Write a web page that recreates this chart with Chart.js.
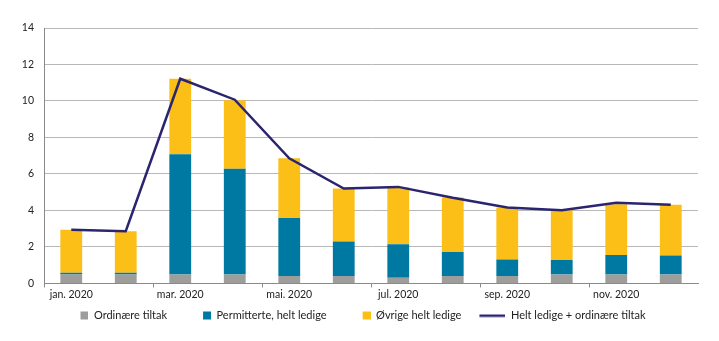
<!DOCTYPE html>
<html>
<head>
<meta charset="utf-8">
<script src="https://cdn.jsdelivr.net/npm/chart.js@4"></script>
<style>
  html, body { margin: 0; padding: 0; background: #fff; }
  #wrap { width: 719px; height: 341px; }
</style>
</head>
<body>
<div id="wrap"><canvas id="chart"></canvas></div>
<script>
const months = ["jan. 2020", "feb. 2020", "mar. 2020", "apr. 2020", "mai. 2020", "jun. 2020",
                "jul. 2020", "aug. 2020", "sep. 2020", "okt. 2020", "nov. 2020", "des. 2020"];
const ordinaere = [0.49, 0.49, 0.49, 0.49, 0.40, 0.40, 0.31, 0.40, 0.40, 0.49, 0.49, 0.49];
const permitterte = [0.09, 0.09, 6.59, 5.79, 3.19, 1.90, 1.84, 1.32, 0.91, 0.79, 1.06, 1.04];
const ovrige = [2.36, 2.28, 4.14, 3.76, 3.27, 2.90, 3.11, 2.99, 2.85, 2.73, 2.79, 2.78];
const heltLedigeTiltak = [2.94, 2.86, 11.22, 10.07, 6.86, 5.20, 5.29, 4.69, 4.16, 4.01, 4.42, 4.31];
const yTicks = [0, 2, 4, 6, 8, 10, 12, 14];

const FONT = "Lato, 'Open Sans', sans-serif";
const ICON_W = 36;

// legend symbols: symbol sits at the right end of the icon, next to the text
function legendIcon(color, isLine) {
  const c = document.createElement("canvas");
  c.width = ICON_W; c.height = 10;
  const g = c.getContext("2d");
  g.fillStyle = color;
  if (isLine) g.fillRect(ICON_W - 26, 4, 26, 2.5);
  else g.fillRect(ICON_W - 8, 1, 8, 8);
  return c;
}

new Chart(document.getElementById("chart"), {
  data: {
    labels: months,
    datasets: [
      { type: "bar", label: "Ordinære tiltak", data: ordinaere, backgroundColor: "#9d9d9c",
        stack: "bars", order: 1, pointStyle: legendIcon("#9d9d9c") },
      { type: "bar", label: "Permitterte, helt ledige", data: permitterte, backgroundColor: "#0079a2",
        stack: "bars", order: 1, pointStyle: legendIcon("#0079a2") },
      { type: "bar", label: "Øvrige helt ledige", data: ovrige, backgroundColor: "#fbbf18",
        stack: "bars", order: 1, pointStyle: legendIcon("#fbbf18") },
      { type: "line", label: "Helt ledige + ordinære tiltak", data: heltLedigeTiltak,
        borderColor: "#2b2570", borderWidth: 2.5, pointRadius: 0, tension: 0,
        stack: "line", order: 0, pointStyle: legendIcon("#2b2570", true) }
    ]
  },
  options: {
    responsive: true,
    maintainAspectRatio: false,
    animation: false,
    datasets: { bar: { categoryPercentage: 0.4, barPercentage: 1 } },
    layout: { padding: { top: 28, right: 21, left: 0, bottom: 10 } },
    plugins: {
      tooltip: { enabled: false },
      legend: {
        position: "bottom",
        labels: {
          usePointStyle: true,
          pointStyleWidth: ICON_W,
          boxHeight: 10,
          padding: 8,
          color: "#222",
          font: { family: FONT, size: 11 },
          sort: (a, b) => a.datasetIndex - b.datasetIndex
        }
      }
    },
    scales: {
      x: {
        stacked: true,
        offset: true,
        border: { color: "#8a8a8a", width: 1 },
        grid: {
          offset: true,
          drawOnChartArea: false,
          tickLength: 4,
          color: ctx => ctx.index % 2 === 0 ? "#8a8a8a" : "rgba(0,0,0,0)"
        },
        ticks: {
          autoSkip: false,
          maxRotation: 0,
          padding: 1,
          color: "#222",
          font: { family: FONT, size: 10.5 },
          callback: (v, i) => i % 2 === 0 ? months[i] : ""
        }
      },
      y: {
        stacked: true,
        min: 0,
        max: 14,
        afterBuildTicks: s => { s.ticks = yTicks.map(v => ({ value: v })); },
        border: { color: "#8a8a8a", width: 1 },
        grid: { color: "#b8b8b8", lineWidth: 1, drawTicks: false },
        ticks: {
          padding: 10,
          color: "#222",
          font: { family: FONT, size: 10.5 }
        },
        afterFit: s => { s.width = 44; }
      }
    }
  }
});
</script>
</body>
</html>
